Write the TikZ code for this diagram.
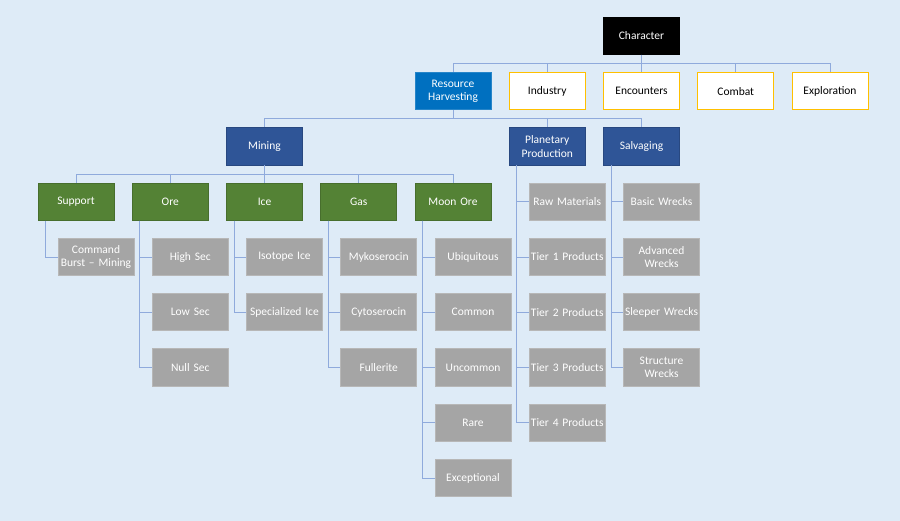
\documentclass[tikz,border=0pt]{standalone}
\usepackage{fontspec}
\setmainfont{Carlito}
\usetikzlibrary{positioning}
\definecolor{bgblue}{RGB}{222,235,247}
\definecolor{linkblue}{RGB}{143,170,220}
\definecolor{topblue}{RGB}{0,112,192}
\definecolor{darkblue}{RGB}{47,85,151}
\definecolor{leafgreen}{RGB}{84,130,53}
\definecolor{leafgrey}{RGB}{165,165,165}
\definecolor{gold}{RGB}{255,192,0}

\begin{document}
\begin{tikzpicture}[
        box/.style={rectangle, minimum height=37.2pt, text width=75.6pt, inner sep=0.3pt, align=center,
            font=\fontsize{11.5}{13.6}\selectfont, line width=0.8pt},
        root/.style={box, fill=black, draw=black, text=white},
        harvest/.style={box, fill=topblue, draw=topblue!85!white, text=white},
        branch/.style={box, fill=white, draw=gold},
        sub/.style={box, fill=darkblue, draw=darkblue!85!black, text=white},
        kind/.style={box, fill=leafgreen, draw=leafgreen!85!black, text=white},
        leaf/.style={box, fill=leafgrey, draw=leafgrey!80!white, text=white},
        link/.style={draw=linkblue, line width=0.8pt},
        node distance=17.25pt
    ]
        \useasboundingbox (0,0) rectangle (900pt,-521pt);
        \fill[bgblue] (0,0) rectangle (900pt,-521pt);

        \node[root] (char) at (641.5pt,-36pt) {Character};
        \node[branch, below=of char] (enc) {Encounters};
        \node[branch, left=of enc] (ind) {Industry};
        \node[harvest, left=of ind] (rh) {Resource\\Harvesting};
        \node[branch, right=of enc] (cmb) {Combat};
        \node[branch, right=of cmb] (expl) {Exploration};

        \node[sub, below=of enc] (salv) {Salvaging};
        \node[sub, below=of ind] (pp) {Planetary\\Production};
        \node[kind, below left=17.25pt and 17.25pt of pp.south west] (moon) {Moon Ore};
        \node[kind, left=of moon] (gas) {Gas};
        \node[kind, left=of gas] (ice) {Ice};
        \node[kind, left=of ice] (ore) {Ore};
        \node[kind, left=of ore] (sup) {Support};
        \node[sub, above=of ice] (mining) {Mining};

        % leaves
        \node[leaf, below right=17.25pt and 20pt of sup.south west] (cbm) {Command\\Burst -- Mining};

        \node[leaf, below right=17.25pt and 20pt of ore.south west] (hs) {High Sec};
        \node[leaf, below=of hs] (ls) {Low Sec};
        \node[leaf, below=of ls] (ns) {Null Sec};

        \node[leaf, below right=17.25pt and 20pt of ice.south west] (iso) {Isotope Ice};
        \node[leaf, below=of iso] (spec) {Specialized Ice};

        \node[leaf, below right=17.25pt and 20pt of gas.south west] (myk) {Mykoserocin};
        \node[leaf, below=of myk] (cyto) {Cytoserocin};
        \node[leaf, below=of cyto] (full) {Fullerite};

        \node[leaf, below right=17.25pt and 20pt of moon.south west] (ubi) {Ubiquitous};
        \node[leaf, below=of ubi] (com) {Common};
        \node[leaf, below=of com] (unc) {Uncommon};
        \node[leaf, below=of unc] (rare) {Rare};
        \node[leaf, below=of rare] (exc) {Exceptional};

        \node[leaf, below right=17.25pt and 20pt of pp.south west] (raw) {Raw Materials};
        \node[leaf, below=of raw] (t1) {Tier~1~Products};
        \node[leaf, below=of t1] (t2) {Tier~2~Products};
        \node[leaf, below=of t2] (t3) {Tier~3~Products};
        \node[leaf, below=of t3] (t4) {Tier~4~Products};

        \node[leaf, below right=17.25pt and 20pt of salv.south west] (bw) {Basic Wrecks};
        \node[leaf, below=of bw] (aw) {Advanced\\Wrecks};
        \node[leaf, below=of aw] (sw) {Sleeper~Wrecks};
        \node[leaf, below=of sw] (stw) {Structure\\Wrecks};

        % connectors
        \draw[link] (char.south) -- ++(0,-8.5pt) -| (rh.north);
        \draw[link] (char.south) -- ++(0,-8.5pt) -| (ind.north);
        \draw[link] (char.south) -- (enc.north);
        \draw[link] (char.south) -- ++(0,-8.5pt) -| (cmb.north);
        \draw[link] (char.south) -- ++(0,-8.5pt) -| (expl.north);

        \draw[link] (rh.south) -- ++(0,-8.5pt) -| (mining.north);
        \draw[link] (rh.south) -- ++(0,-8.5pt) -| (pp.north);
        \draw[link] (rh.south) -- ++(0,-8.5pt) -| (salv.north);

        \draw[link] (mining.south) -- ++(0,-8.5pt) -| (sup.north);
        \draw[link] (mining.south) -- ++(0,-8.5pt) -| (ore.north);
        \draw[link] (mining.south) -- (ice.north);
        \draw[link] (mining.south) -- ++(0,-8.5pt) -| (gas.north);
        \draw[link] (mining.south) -- ++(0,-8.5pt) -| (moon.north);

        \draw[link] ([xshift=8pt]sup.south west) |- (cbm.west);

        \draw[link] ([xshift=8pt]ore.south west) |- (hs.west);
        \draw[link] ([xshift=8pt]ore.south west) |- (ls.west);
        \draw[link] ([xshift=8pt]ore.south west) |- (ns.west);

        \draw[link] ([xshift=8pt]ice.south west) |- (iso.west);
        \draw[link] ([xshift=8pt]ice.south west) |- (spec.west);

        \draw[link] ([xshift=8pt]gas.south west) |- (myk.west);
        \draw[link] ([xshift=8pt]gas.south west) |- (cyto.west);
        \draw[link] ([xshift=8pt]gas.south west) |- (full.west);

        \draw[link] ([xshift=8pt]moon.south west) |- (ubi.west);
        \draw[link] ([xshift=8pt]moon.south west) |- (com.west);
        \draw[link] ([xshift=8pt]moon.south west) |- (unc.west);
        \draw[link] ([xshift=8pt]moon.south west) |- (rare.west);
        \draw[link] ([xshift=8pt]moon.south west) |- (exc.west);

        \draw[link] ([xshift=8pt]pp.south west) |- (raw.west);
        \draw[link] ([xshift=8pt]pp.south west) |- (t1.west);
        \draw[link] ([xshift=8pt]pp.south west) |- (t2.west);
        \draw[link] ([xshift=8pt]pp.south west) |- (t3.west);
        \draw[link] ([xshift=8pt]pp.south west) |- (t4.west);

        \draw[link] ([xshift=8pt]salv.south west) |- (bw.west);
        \draw[link] ([xshift=8pt]salv.south west) |- (aw.west);
        \draw[link] ([xshift=8pt]salv.south west) |- (sw.west);
        \draw[link] ([xshift=8pt]salv.south west) |- (stw.west);
\end{tikzpicture}
\end{document}
